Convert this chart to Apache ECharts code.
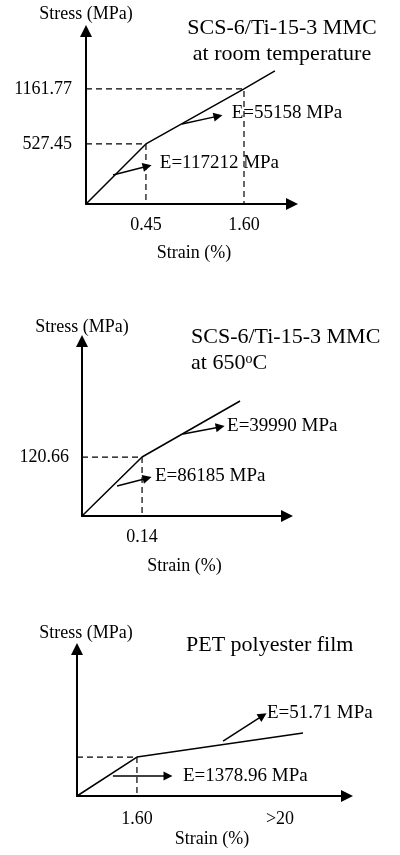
<!DOCTYPE html>
<html>
<head>
<meta charset="utf-8">
<title>Bilinear stress-strain models</title>
<style>
  html, body { margin: 0; padding: 0; background: #fff; }
  #chart { width: 400px; height: 855px; }
</style>
</head>
<body>
<div id="chart"></div>
<script src="https://cdn.jsdelivr.net/npm/echarts@6/dist/echarts.min.js"></script>
<script>
// The figure is a sketch, not drawn to scale: curve points are read as % of each axis length,
// the printed numbers only show up as tick labels.

// panel 1 - SCS-6/Ti-15-3 MMC at room temperature
var p1StrainPos = [0, 29.1, 76.7, 91.7];
var p1StressPos = [0, 34.7, 66.5, 76.9];
var p1StrainTicks = ['0.45', '1.60'];
var p1StressTicks = ['527.45', '1161.77'];
var p1Moduli = ['E=117212 MPa', 'E=55158 MPa'];
var p1ArrowFrom = [[13.1, 16.8], [46.6, 46.2]];
var p1ArrowTo = [[29.7, 21.8], [64.1, 50.8]];

// panel 2 - SCS-6/Ti-15-3 MMC at 650oC
var p2StrainPos = [0, 29.3, 77.1];
var p2StressPos = [0, 33.7, 65.7];
var p2StrainTicks = ['0.14'];
var p2StressTicks = ['120.66'];
var p2Moduli = ['E=86185 MPa', 'E=39990 MPa'];
var p2ArrowFrom = [[17.1, 17.1], [49.3, 46.9]];
var p2ArrowTo = [[31.8, 21.6], [67.4, 50.9]];

// panel 3 - PET polyester film
var p3StrainPos = [0, 22.2, 83.7];
var p3StressPos = [0, 26.5, 42.9];
var p3StrainTicks = ['1.60', '>20'];
var p3FarStrainPos = 75.2;   // '>20' does not sit on a curve point
var p3Moduli = ['E=1378.96 MPa', 'E=51.71 MPa'];
var p3ArrowFrom = [[13.3, 13.6], [54.1, 37.4]];
var p3ArrowTo = [[33.7, 13.6], [68.8, 54.6]];

var FONT = '"Liberation Serif", "Times New Roman", serif';

function zip(xs, ys) {
    var out = [];
    for (var i = 0; i < xs.length; i++) out.push([xs[i], ys[i]]);
    return out;
}

var panels = [
    {
        grid: {left: 86, top: 31, width: 206, height: 173},
        x: p1StrainPos, y: p1StressPos, knees: [1, 2],
        xTickPos: [p1StrainPos[1], p1StrainPos[2]], xTicks: p1StrainTicks,
        yTickPos: [p1StressPos[1], p1StressPos[2]], yTicks: p1StressTicks,
        moduli: p1Moduli, from: p1ArrowFrom, to: p1ArrowTo,
        labelDist: [13, 14], labelPad: [0, 0],
        xMargin: 12, yMargin: 14, xNameGap: 40, yNameGap: 8,
        xNamePad: [0, 0, 0, 10], yNamePad: 0
    },
    {
        grid: {left: 82, top: 341, width: 205, height: 175},
        x: p2StrainPos, y: p2StressPos, knees: [1],
        xTickPos: [p2StrainPos[1]], xTicks: p2StrainTicks,
        yTickPos: [p2StressPos[1]], yTicks: p2StressTicks,
        moduli: p2Moduli, from: p2ArrowFrom, to: p2ArrowTo,
        labelDist: [8, 7], labelPad: [0, 0],
        xMargin: 12, yMargin: 13, xNameGap: 41, yNameGap: 5,
        xNamePad: 0, yNamePad: 0
    },
    {
        grid: {left: 77, top: 649, width: 270, height: 147},
        x: p3StrainPos, y: p3StressPos, knees: [1],
        xTickPos: [p3StrainPos[1], p3FarStrainPos], xTicks: p3StrainTicks,
        yTickPos: [], yTicks: [],
        moduli: p3Moduli, from: p3ArrowFrom, to: p3ArrowTo,
        labelDist: [15, 5], labelPad: [0, 20],
        xMargin: 14, yMargin: 13, xNameGap: 34, yNameGap: 7,
        xNamePad: 0, yNamePad: [0, 0, 0, 18]
    }
];

function tickFormatter(pos, labels) {
    return function (v) {
        for (var i = 0; i < pos.length; i++) {
            if (Math.abs(pos[i] - v) < 0.01) return labels[i];
        }
        return '';
    };
}

var axisLine = {
    show: true, onZero: false,
    symbol: ['none', 'triangle'], symbolSize: [12, 12],
    lineStyle: {color: '#000', width: 2}
};
var labelText = {fontFamily: FONT, fontSize: 18, color: '#000'};

var grids = [], xAxes = [], yAxes = [], series = [];

panels.forEach(function (p, i) {
    grids.push(Object.assign({outerBoundsMode: 'none'}, p.grid));

    xAxes.push({
        type: 'value', gridIndex: i, min: 0, max: 100,
        name: 'Strain (%)', nameLocation: 'middle', nameGap: p.xNameGap,
        nameTextStyle: Object.assign({padding: p.xNamePad}, labelText),
        axisLine: axisLine, axisTick: {show: false}, splitLine: {show: false},
        axisLabel: Object.assign({
            show: true, margin: p.xMargin, customValues: p.xTickPos,
            formatter: tickFormatter(p.xTickPos, p.xTicks)
        }, labelText)
    });

    yAxes.push({
        type: 'value', gridIndex: i, min: 0, max: 100,
        name: 'Stress (MPa)', nameLocation: 'end', nameGap: p.yNameGap,
        nameTextStyle: Object.assign({padding: p.yNamePad}, labelText),
        axisLine: axisLine, axisTick: {show: false}, splitLine: {show: false},
        axisLabel: Object.assign({
            show: p.yTickPos.length > 0, margin: p.yMargin, customValues: p.yTickPos,
            formatter: tickFormatter(p.yTickPos, p.yTicks)
        }, labelText)
    });

    // dashed guides from the axes to the marked points
    p.knees.forEach(function (k) {
        series.push({
            type: 'line', xAxisIndex: i, yAxisIndex: i,
            data: [[0, p.y[k]], [p.x[k], p.y[k]], [p.x[k], 0]],
            showSymbol: false, silent: true, animation: false,
            lineStyle: {color: '#000', width: 1.2, type: [6, 4]}
        });
    });

    // the bilinear curve, with the modulus pointers as markLines
    series.push({
        type: 'line', xAxisIndex: i, yAxisIndex: i,
        data: zip(p.x, p.y),
        showSymbol: false, silent: true, animation: false,
        lineStyle: {color: '#000', width: 1.5},
        markLine: {
            silent: true, animation: false,
            symbol: ['none', 'triangle'], symbolSize: 9,
            lineStyle: {color: '#000', width: 1.5, type: 'solid'},
            data: p.moduli.map(function (txt, j) {
                return [
                    {
                        name: txt, coord: p.from[j],
                        label: Object.assign({
                            show: true, position: 'end', formatter: '{b}',
                            distance: p.labelDist[j],
                            padding: [0, 0, p.labelPad[j], 0]
                        }, labelText, {fontSize: 19})
                    },
                    {coord: p.to[j]}
                ];
            })
        }
    });
});

var titleFont = {fontFamily: FONT, fontSize: 22, fill: '#000'};
function titleText(x, y, text, align) {
    return {
        type: 'text', x: x, y: y, silent: true,
        style: Object.assign({text: text, align: align, textAlign: align,
            verticalAlign: 'middle', textVerticalAlign: 'middle'}, titleFont)
    };
}

var chart = echarts.init(document.getElementById('chart'));
chart.setOption({
    backgroundColor: '#fff',
    animation: false,
    grid: grids,
    xAxis: xAxes,
    yAxis: yAxes,
    series: series,
    graphic: [
        titleText(282, 28, 'SCS-6/Ti-15-3 MMC', 'center'),
        titleText(282, 54, 'at room temperature', 'center'),
        titleText(191, 337, 'SCS-6/Ti-15-3 MMC', 'left'),
        {
            type: 'text', x: 191, y: 363, silent: true,
            style: {
                text: '{n|at 650}{s|o}{n|C}',
                align: 'left', textAlign: 'left',
                verticalAlign: 'middle', textVerticalAlign: 'middle',
                fill: '#000',
                rich: {
                    n: {fontFamily: FONT, fontSize: 22, fill: '#000', color: '#000'},
                    s: {fontFamily: FONT, fontSize: 14, fill: '#000', color: '#000', verticalAlign: 'top'}
                }
            }
        },
        titleText(186, 645, 'PET polyester film', 'left')
    ]
});
</script>
</body>
</html>
